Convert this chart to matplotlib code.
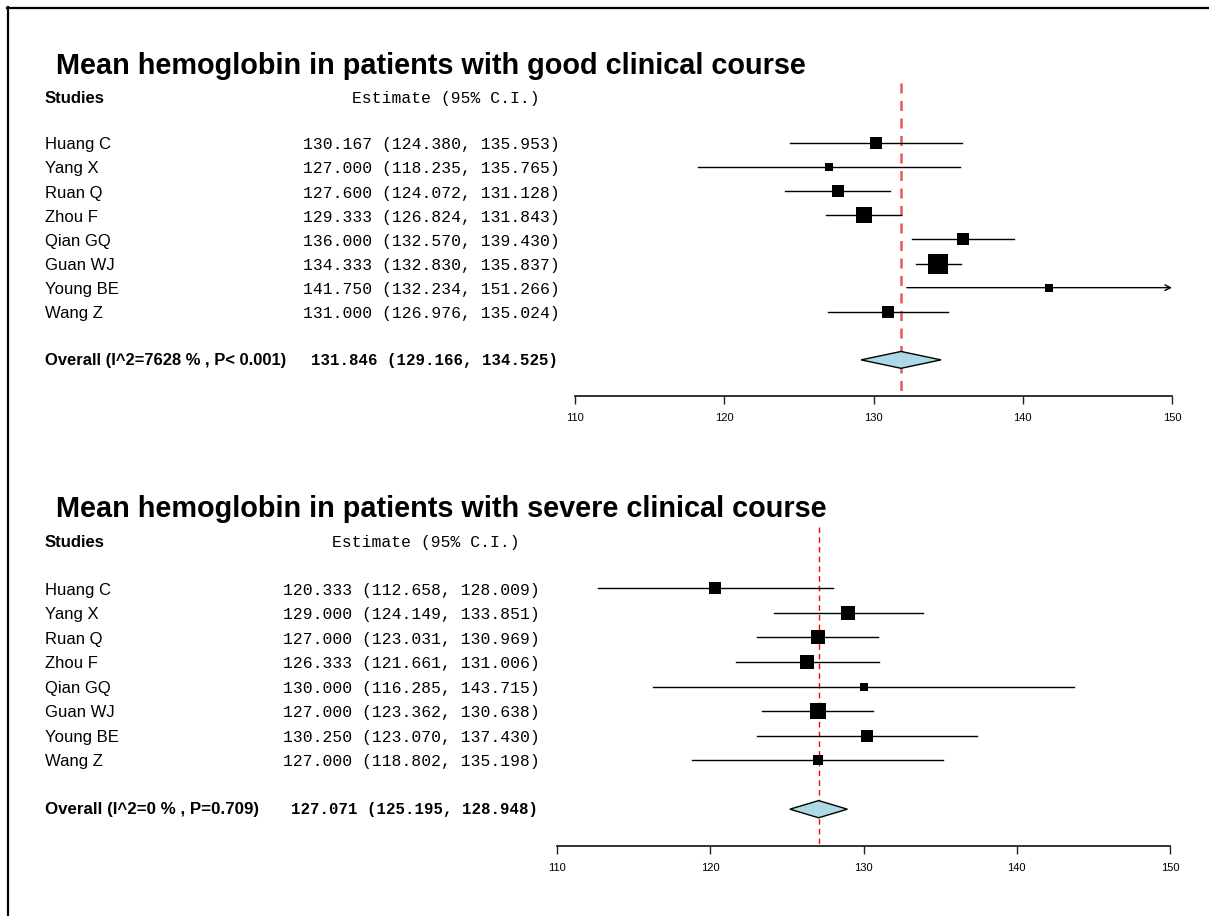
import numpy as np
import matplotlib
matplotlib.use("Agg")
import matplotlib.pyplot as plt
from matplotlib import transforms
from matplotlib.patches import Polygon
from matplotlib.lines import Line2D

# dados do forest plot
estudos = ["Huang C", "Yang X", "Ruan Q", "Zhou F", "Qian GQ", "Guan WJ", "Young BE", "Wang Z"]

# curso clinico bom
est_bom = [130.167, 127.000, 127.600, 129.333, 136.000, 134.333, 141.750, 131.000]
inf_bom = [124.380, 118.235, 124.072, 126.824, 132.570, 132.830, 132.234, 126.976]
sup_bom = [135.953, 135.765, 131.128, 131.843, 139.430, 135.837, 151.266, 135.024]
peso_bom = [8.4, 5.6, 11.7, 17.7, 11.7, 27.7, 5.6, 11.7]
geral_bom = [131.846, 129.166, 134.525]
label_geral_bom = "Overall (I^2=7628 % , P< 0.001)"
titulo_bom = "Mean hemoglobin in patients with good clinical course"

# curso clinico grave
est_grave = [120.333, 129.000, 127.000, 126.333, 130.000, 127.000, 130.250, 127.000]
inf_grave = [112.658, 124.149, 123.031, 121.661, 116.285, 123.362, 123.070, 118.802]
sup_grave = [128.009, 133.851, 130.969, 131.006, 143.715, 130.638, 137.430, 135.198]
peso_grave = [9.8, 13.7, 17.5, 15.3, 5.6, 19.0, 10.4, 8.6]
geral_grave = [127.071, 125.195, 128.948]
label_geral_grave = "Overall (I^2=0 % , P=0.709)"
titulo_grave = "Mean hemoglobin in patients with severe clinical course"

xticks = [110, 120, 130, 140, 150]

W, H = 1209, 916
SANS = "Liberation Sans"
MONO = "Liberation Mono"


def painel(fig, caixa, est, inf, sup, peso, geral, label_geral, titulo,
           x_num, x_head, x_geral, cor_ref, lw_ref, escala_caixa, fs_geral):
    # caixa em pixels: (x0, x1, y_topo, y_eixo)
    x0, x1, yt, yb = caixa
    ax = fig.add_axes([x0 / W, 1 - yb / H, (x1 - x0) / W, (yb - yt) / H])
    ax.set_xlim(110, 150)
    ax.set_ylim(10.5, -2.5)
    for s in ["top", "right", "left"]:
        ax.spines[s].set_visible(False)
    ax.spines["bottom"].set_linewidth(1.3)
    ax.spines["bottom"].set_color("#222222")
    ax.set_yticks([])
    ax.set_xticks(xticks)
    ax.set_xticklabels([str(t) for t in xticks], fontsize=8, family=SANS)
    ax.tick_params(axis="x", length=5.5, width=1, color="#222222", pad=6.5)
    ax.patch.set_alpha(0)

    n = len(est)
    ys = np.arange(n)
    # linha de referencia
    ax.plot([geral[0], geral[0]], [-2.5, 10.5], color=cor_ref, lw=lw_ref,
            dashes=(4, 3), zorder=1, clip_on=False)

    for i in range(n):
        if sup[i] > 150:
            ax.annotate("", xy=(150, ys[i]), xytext=(inf[i], ys[i]),
                        arrowprops=dict(arrowstyle="->", lw=1, color="black",
                                        shrinkA=0, shrinkB=0, mutation_scale=10),
                        annotation_clip=False, zorder=2)
        else:
            ax.plot([inf[i], sup[i]], [ys[i], ys[i]], color="black", lw=1, zorder=2)
        lado = escala_caixa * np.sqrt(peso[i]) * 0.72
        ax.plot(est[i], ys[i], marker="s", ms=lado, color="black", mec="black",
                mew=0, zorder=3, linestyle="none")

    h = 0.35
    yg = 9
    diamante = Polygon([[geral[1], yg], [geral[0], yg - h], [geral[2], yg], [geral[0], yg + h]],
                       closed=True, facecolor="#add8e6", edgecolor="black", lw=1, zorder=4)
    ax.add_patch(diamante)

    # textos: x em fracao da figura, y em linhas do painel
    tr = transforms.blended_transform_factory(fig.transFigure, ax.transData)
    ax.text(56 / W, -3.22, titulo, transform=tr, fontsize=20.8, fontweight="bold",
            family=SANS, va="center", ha="left")
    ax.text(45 / W, -1.87, "Studies", transform=tr, fontsize=12, fontweight="bold",
            family=SANS, va="center", ha="left")
    ax.text(x_head / W, -1.87, "Estimate (95% C.I.)", transform=tr, fontsize=11.8,
            family=MONO, va="center", ha="right")
    for i in range(n):
        ax.text(45 / W, ys[i] + 0.07, estudos[i], transform=tr, fontsize=12, family=SANS,
                va="center", ha="left")
        txt = f"{est[i]:.3f} ({inf[i]:.3f}, {sup[i]:.3f})"
        ax.text(x_num / W, ys[i] + 0.07, txt, transform=tr, fontsize=11.8, family=MONO,
                va="center", ha="right")
    ax.text(45 / W, yg + 0.02, label_geral, transform=tr, fontsize=fs_geral, fontweight="bold",
            family=SANS, va="center", ha="left")
    txt = f"{geral[0]:.3f} ({geral[1]:.3f}, {geral[2]:.3f})"
    ax.text(x_geral / W, yg + 0.02, txt, transform=tr, fontsize=11.3, fontweight="bold",
            family=MONO, va="center", ha="right")
    return ax


fig = plt.figure(figsize=(W / 100, H / 100), dpi=100)

painel(fig, (575, 1172, 83, 396), est_bom, inf_bom, sup_bom, peso_bom, geral_bom,
       label_geral_bom, titulo_bom, 560, 540, 558, "#f05555", 1.8, 3.8, 11.9)
painel(fig, (557, 1170, 527, 846), est_grave, inf_grave, sup_grave, peso_grave, geral_grave,
       label_geral_grave, titulo_grave, 540, 520, 538, "red", 1.0, 3.55, 12.2)

# moldura (topo e esquerda)
fig.add_artist(Line2D([7 / W, 1], [1 - 7.5 / H, 1 - 7.5 / H], color="black", lw=1.6,
                      transform=fig.transFigure))
fig.add_artist(Line2D([7.5 / W, 7.5 / W], [0, 1 - 7 / H], color="black", lw=1.6,
                      transform=fig.transFigure))

fig.savefig("out.png", dpi=100)
